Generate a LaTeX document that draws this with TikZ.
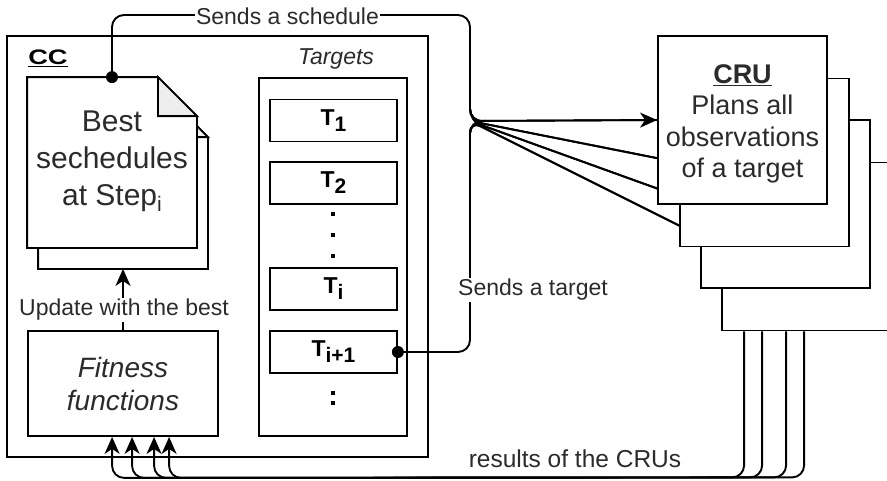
\documentclass[tikz,border=0pt]{standalone}
\usepackage{fontspec}
\setmainfont{Liberation Sans}
\usetikzlibrary{arrows.meta,calc,backgrounds}
\definecolor{txt}{HTML}{2B2B2B}
\definecolor{foldgray}{HTML}{EEEEEE}
\newcommand{\mysub}[2][21]{\raisebox{-6pt}{\fontsize{#1}{#1}\selectfont #2}}
\begin{document}
\begin{tikzpicture}[x=1pt,y=-1pt,line width=1.8pt,
  box/.style={draw,fill=white,rectangle,inner sep=0pt,line width=1.8pt},
  ghost/.style={rectangle,inner sep=0pt,draw=none},
  tbox/.style={box,minimum width=127pt,minimum height=42pt,text=black,font=\fontsize{23}{26}\selectfont\bfseries},
  crubox/.style={box,minimum width=169pt,minimum height=168pt},
  lbl/.style={font=\fontsize{23}{26}\selectfont,text=txt,inner sep=1pt},
  arr/.style={-{Stealth[length=17pt,width=15pt,inset=5pt]}},
  dotend/.style={circle,fill=black,inner sep=0pt,minimum size=12pt},
  sq/.style={rectangle,fill=black,inner sep=0pt,minimum size=4.5pt},
  conn/.style={rounded corners=12pt,line width=1.9pt,draw=black}]
\useasboundingbox (0,0) rectangle (887,480);
\clip (0,0) rectangle (887,480);

% ---------- CC ----------
\node[box,minimum width=421pt,minimum height=421pt] (cc) at (217.5,246.5) {};
\node[text=black,inner sep=0pt,font=\fontsize{21}{24}\selectfont\bfseries] (cclbl) at (48,58) {\underline{\scalebox{1.3}[1]{CC}}};

% document stack
\node[ghost,minimum width=168pt,minimum height=169pt] (docb) at (123,183.5) {};
\node[ghost,minimum width=168pt,minimum height=169pt] (docf) at (112,162.5) {};
\draw[fill=white] (docb.north west) -- ($(docb.north east)+(-39,0)$) -- ($(docb.north east)+(0,39)$) -- (docb.south east) -- (docb.south west) -- cycle;
\draw[fill=foldgray] ($(docb.north east)+(-39,0)$) -- ($(docb.north east)+(-39,39)$) -- ($(docb.north east)+(0,39)$) -- cycle;
\draw[fill=white] (docf.north west) -- ($(docf.north east)+(-39,0)$) -- ($(docf.north east)+(0,39)$) -- (docf.south east) -- (docf.south west) -- cycle;
\draw[fill=foldgray] ($(docf.north east)+(-39,0)$) -- ($(docf.north east)+(-39,39)$) -- ($(docf.north east)+(0,39)$) -- cycle;
\node[align=center,text=txt,inner sep=0pt,font=\fontsize{30}{37}\selectfont] (doctxt) at (112,161) {Best\\sechedules\\at Step\mysub[21]{i}};

% fitness
\node[box,minimum width=190pt,minimum height=105pt,align=center,text=txt,font=\fontsize{28}{33}\selectfont\itshape] (fit) at (123,383.5) {Fitness\\functions};
\draw[arr] (fit.north) -- (docb.south);
\node[lbl,fill=white] (upd) at (124,310) {Update with the best};

% targets
\node[lbl,font=\fontsize{23}{26}\selectfont\itshape] (tglbl) at (336,59) {Targets};
\node[box,minimum width=148pt,minimum height=358pt] (tg) at (333,257) {};
\node[tbox] (t1) at (333.5,120.5) {T\mysub{1}};
\node[tbox] (t2) at (333.5,183) {T\mysub{2}};
\node[tbox] (ti) at (333.5,289) {T\mysub{i}};
\node[tbox] (tip1) at (333.5,352) {T\mysub{i+1}};
\node[sq] (d1) at (333,214) {};
\node[sq] (d2) at (333,235) {};
\node[sq] (d3) at (333,256) {};
\node[sq] (d4) at (333,393) {};
\node[sq] (d5) at (333,403) {};

% ---------- CRUs ----------
\node[crubox] (c4) at (806.5,246.5) {};
\node[crubox] (c3) at (785.5,204) {};
\node[crubox] (c2) at (764.5,162.5) {};
\node[crubox] (c1) at (742.5,120) {};
\node[align=center,text=txt,inner sep=0pt,font=\fontsize{27}{31.5}\selectfont] (crutxt) at (742.5,124) {\underline{\textbf{CRU}}\\Plans all\\observations\\of a target};

% ---------- connectors ----------
\coordinate (j) at (470,121);
\coordinate (top) at (470,15);
\coordinate (ja) at (470,99);
\coordinate (jb) at (470,143);

\begin{pgfonlayer}{background}
  \fill[white] (0,0) rectangle (887,480);
  \foreach \c in {c1,c2,c3,c4}{
    \draw[conn,arr] (ja) -- (j) -- (\c.west);
    \draw[conn] (jb) -- (j) -- (\c.west);
  }
\end{pgfonlayer}

\draw[conn] (docf.north) -- (docf.north |- top) -- (top) -- (ja);
\node[lbl,fill=white] (sched) at (287.5,16) {Sends a schedule};
\node[dotend] (dot1) at (docf.north) {};

\draw[conn] (tip1.east) -- (tip1.east -| j) -- (jb);
\node[dotend] (dot2) at (tip1.east) {};
\node[lbl,fill=white] (starg) at (533,290) {Sends a target};

\foreach \a/\b in {23/85,41/105,65/127,83/142}{
  \draw[conn,arr] ($(c4.south west)+(\a,0)$) -- ($(c4.south west)+(\a,146)$) -- ($(fit.south west)+(\b,41)$) -- ($(fit.south west)+(\b,0)$);
}
\node[lbl,font=\fontsize{24.5}{28}\selectfont] (res) at (575,459) {results of the CRUs};
\end{tikzpicture}
\end{document}
